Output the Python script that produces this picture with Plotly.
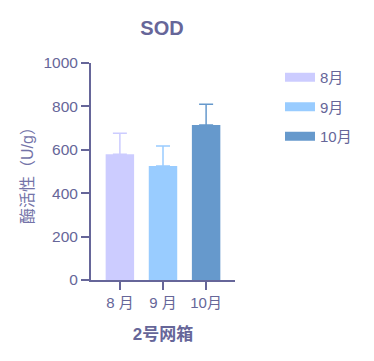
import plotly.graph_objects as go

categories = ["8 月", "9 月", "10月"]
legend_names = ["8月", "9月", "10月"]
means = [580, 525, 714]
sds = [96, 92, 96]
colors = ["#ccccff", "#99ccff", "#6699cc"]

text_color = "#666699"
font_family = "Arial, Liberation Sans, Noto Sans CJK SC, sans-serif"

# page body has an 8px margin; compensate
OFF = 8
W, H = 374 - OFF, 361 - OFF
L, T = 91 - OFF, 63 - OFF
PW, PH = 144, 217

fig = go.Figure()
for i, (cat, name, m, s, c) in enumerate(zip(categories, legend_names, means, sds, colors)):
    fig.add_trace(go.Bar(
        x=[cat], y=[m], name=name, width=0.66, showlegend=False,
        marker=dict(color=c, line=dict(width=0)),
        error_y=dict(type="data", array=[s], arrayminus=[0], symmetric=False,
                     color=c, thickness=1.5, width=7),
    ))
    fig.add_trace(go.Scatter(
        x=[None], y=[None], mode="lines", name=name, legendgroup=name,
        line=dict(color=c, width=9), showlegend=True,
    ))

fig.update_layout(
    width=W, height=H,
    barmode="overlay",
    plot_bgcolor="white", paper_bgcolor="white",
    margin=dict(l=L, r=W - L - PW, t=T, b=H - T - PH, autoexpand=False),
    font=dict(family=font_family, color=text_color, size=15),
    title=dict(text="<b>SOD</b>", x=(162 - OFF) / W, xanchor="center",
               y=1 - (28 - OFF) / H, yanchor="middle",
               font=dict(size=20, color=text_color)),
    legend=dict(x=(280 - OFF - L) / PW, y=1 - (61 - 63) / PH, xanchor="left", yanchor="top",
                font=dict(size=15, color=text_color), tracegroupgap=7,
                itemwidth=30),
    showlegend=True,
)
fig.update_xaxes(
    range=[-0.67, 2.67], showline=True, linecolor=text_color, linewidth=2,
    ticks="outside", ticklen=8, tickwidth=2, tickcolor=text_color,
    tickfont=dict(size=15, color=text_color), automargin=False,
    title=dict(text="<b>2号网箱</b>", font=dict(size=17, color=text_color), standoff=18),
    showgrid=False, zeroline=False,
)
fig.update_yaxes(
    range=[0, 1000], dtick=200, showline=True, linecolor=text_color, linewidth=2,
    ticks="outside", ticklen=8, tickwidth=2, tickcolor=text_color,
    tickfont=dict(size=15.5, color=text_color), automargin=False,
    title=dict(text="酶活性（U/g）", font=dict(size=16, color="#7373a8"), standoff=6),
    showgrid=False, zeroline=False,
)

fig.write_html("out.html")
